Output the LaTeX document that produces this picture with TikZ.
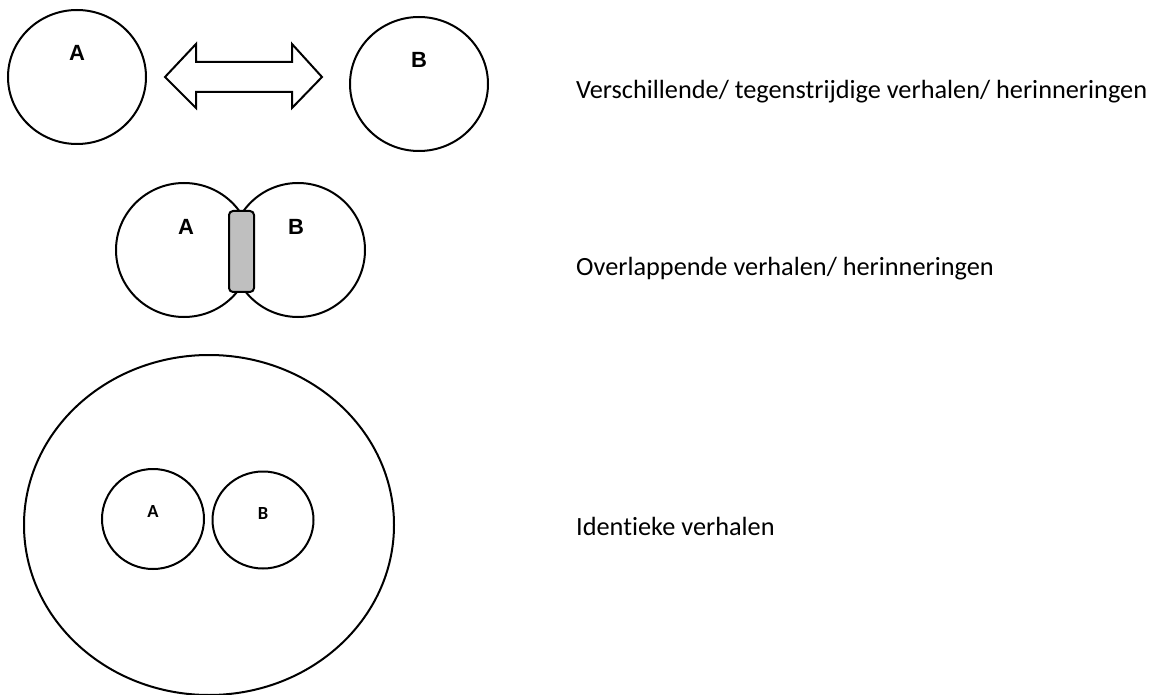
\documentclass[tikz,border=0pt]{standalone}
\usepackage{fontspec}
\setmainfont[Ligatures=NoCommon]{Carlito}
\newfontfamily\arialfont{Liberation Sans}
\usetikzlibrary{shapes.geometric}

\begin{document}
\begin{tikzpicture}[
  x=1pt, y=-1pt,
  circ/.style={ellipse, draw, line width=2pt, inner sep=0pt},
  lbl/.style={font=\arialfont\bfseries\fontsize{22}{24}\selectfont},
  smalllbl/.style={font=\bfseries\fontsize{18.5}{20}\selectfont},
  caption/.style={anchor=base west, font=\fontsize{26.3}{30}\selectfont, inner sep=0pt}
]
\useasboundingbox (0,0) rectangle (1160,695);

% Row 1: different stories
\node[circ, minimum width=138, minimum height=134] (a1) at (77,77) {};
\node[circ, minimum width=138, minimum height=134] (b1) at (419,84) {};
\node[lbl] (la1) at (77,53) {A};
\node[lbl] (lb1) at (419,60) {B};
\draw[line width=2pt, line join=miter]
  (165,77) -- (196,44) -- (196,62) -- (292,62) -- (292,44) -- (322,77)
  -- (292,108) -- (292,92) -- (196,92) -- (196,108) -- cycle;
\node[caption] (t1) at (576,99) {Verschillende/ tegenstrijdige verhalen/ herinneringen};

% Row 2: overlapping stories
\node[circ, minimum width=136, minimum height=134] (a2) at (184,250) {};
\node[circ, minimum width=134, minimum height=134] (b2) at (298,250) {};
\node[draw, line width=2pt, fill=black!25, rounded corners=4pt,
      minimum width=25, minimum height=81, inner sep=0pt] (ov) at (241.5,251.5) {};
\node[lbl] (la2) at (186,227) {A};
\node[lbl] (lb2) at (296,227) {B};
\node[caption] (t2) at (576,276) {Overlappende verhalen/ herinneringen};

% Row 3: identical stories
\node[circ, minimum width=370, minimum height=340] (big) at (209,525) {};
\node[circ, minimum width=102, minimum height=100] (a3) at (153,519) {};
\node[circ, minimum width=101, minimum height=97] (b3) at (263,520) {};
\node[smalllbl] (la3) at (153,512) {A};
\node[smalllbl] (lb3) at (263,513) {B};
\node[caption] (t3) at (576,535) {Identieke verhalen};

\end{tikzpicture}
\end{document}
